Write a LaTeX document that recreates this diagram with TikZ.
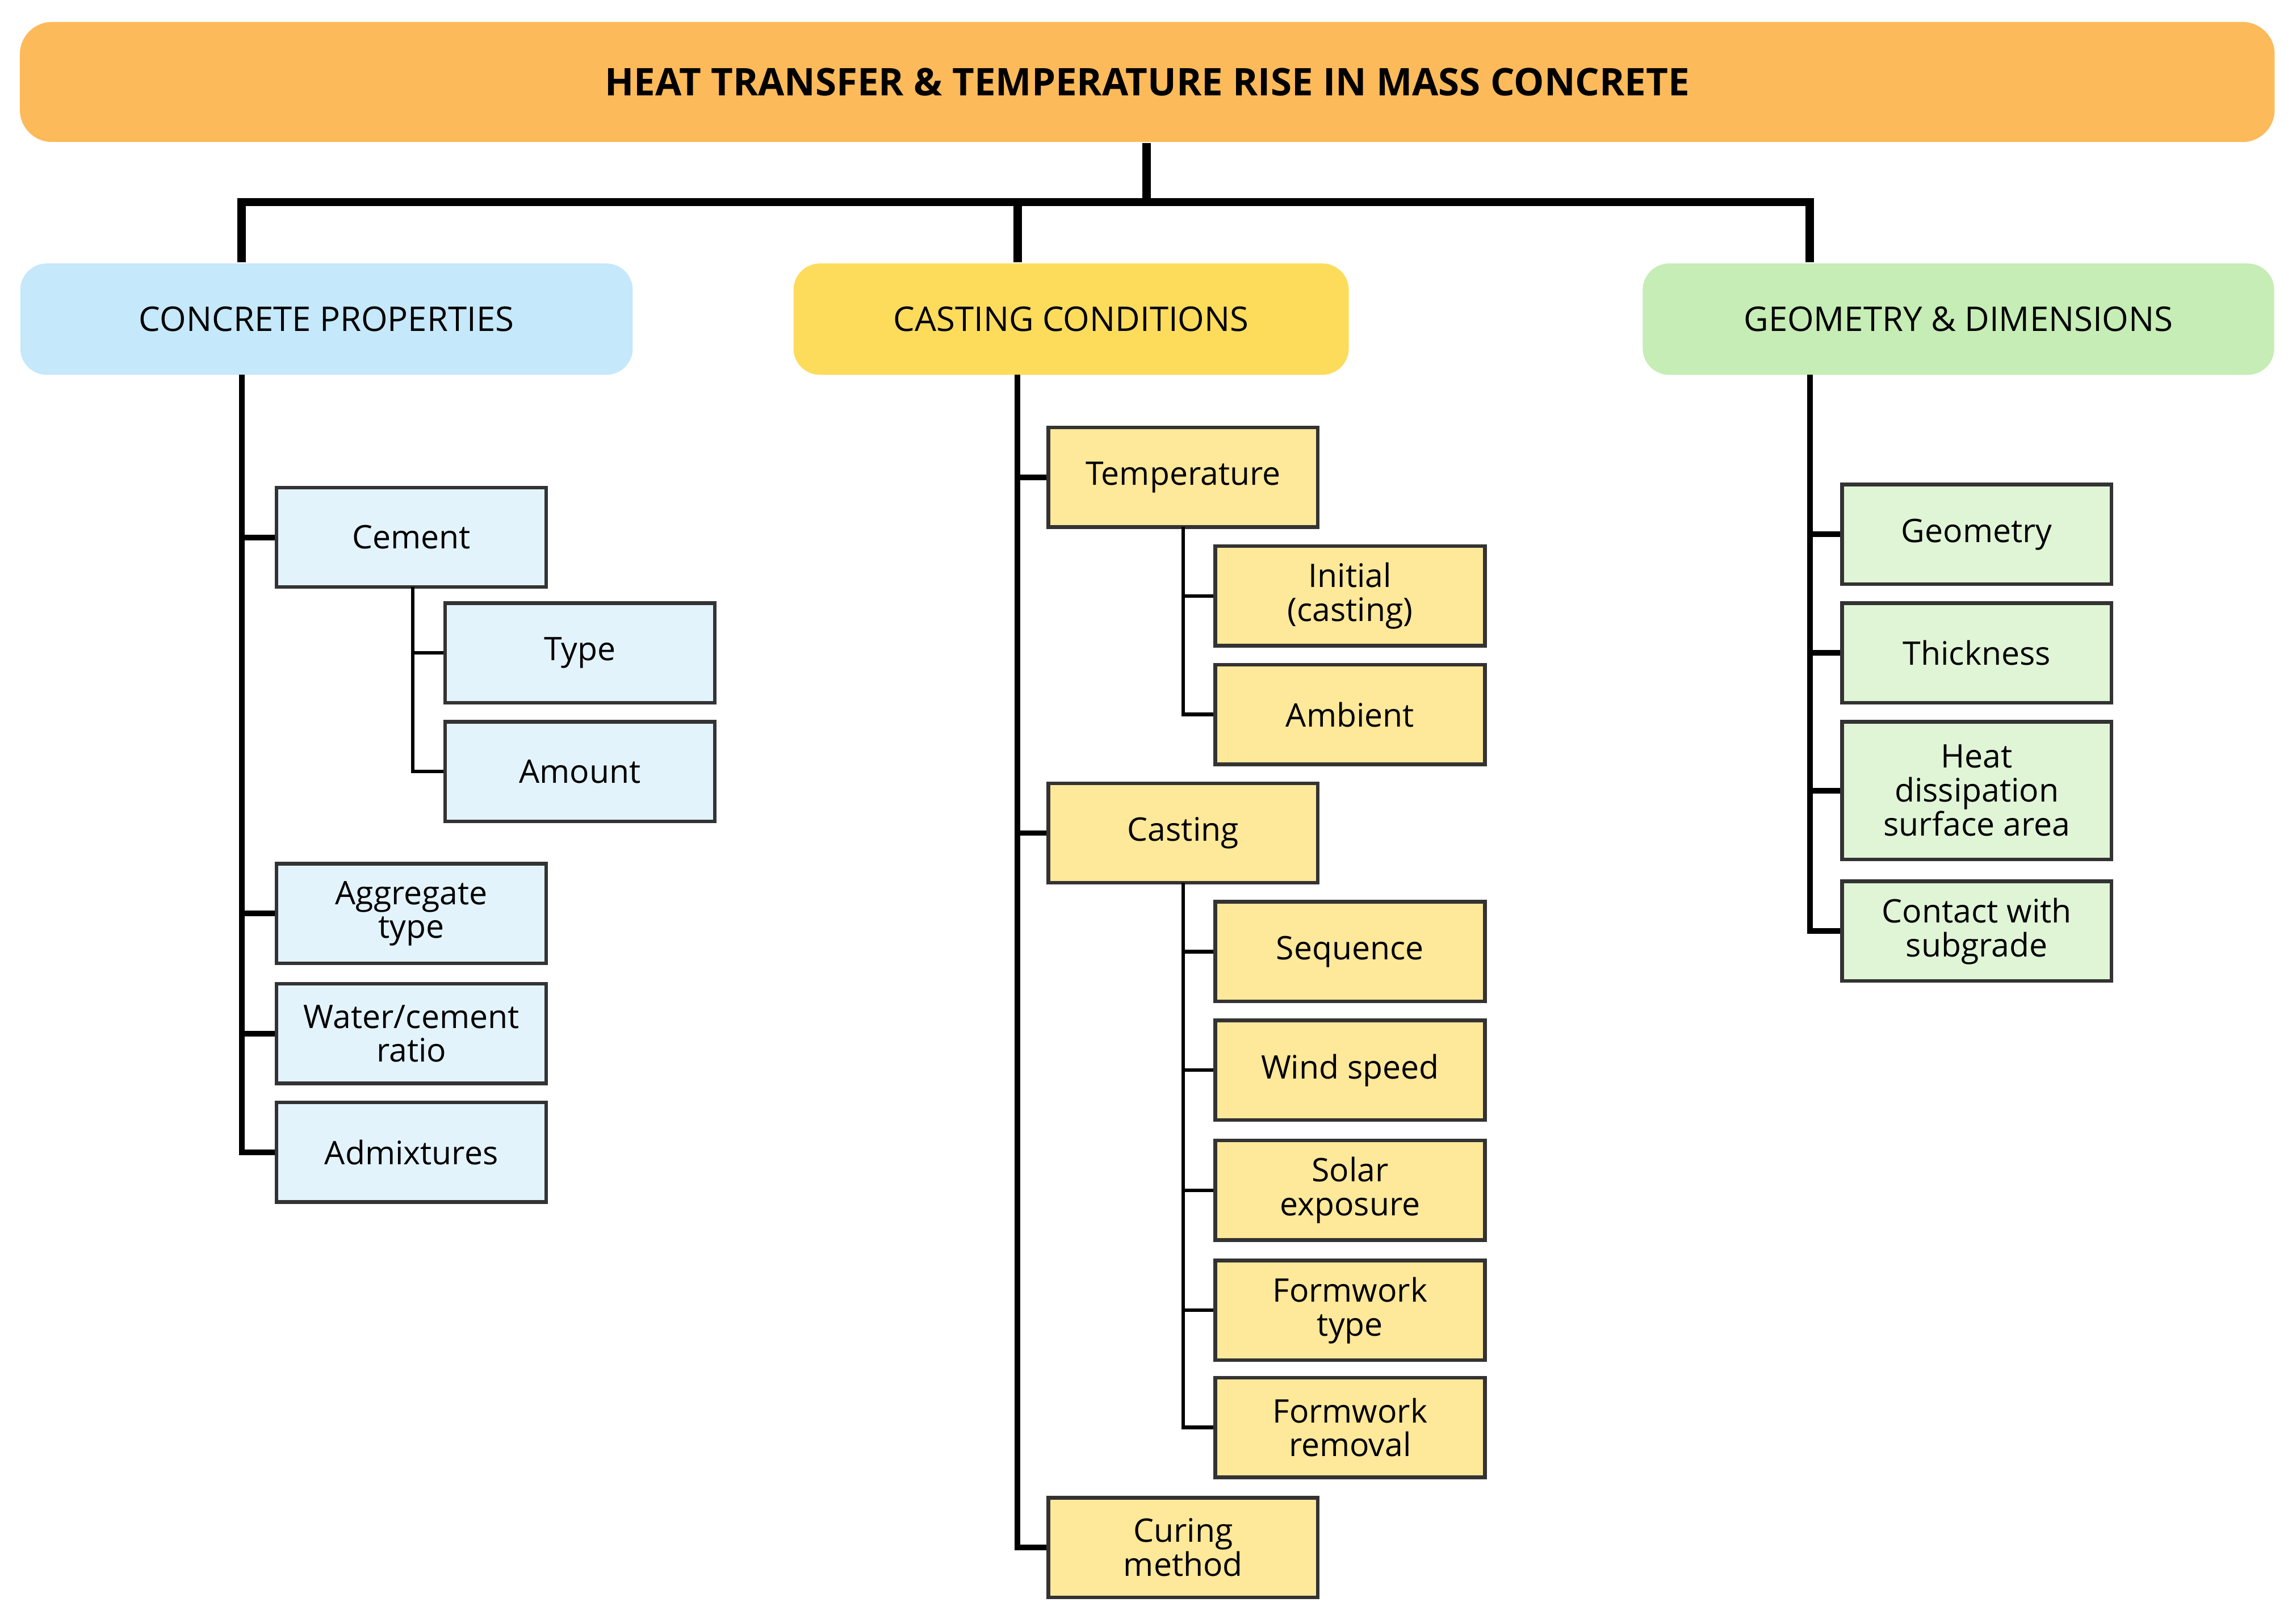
\documentclass[tikz,border=0pt]{standalone}
\usepackage{fontspec}
\setmainfont{Open Sans}
\usetikzlibrary{positioning}
\definecolor{orangeT}{HTML}{FDBA5A}
\definecolor{blueC}{HTML}{C5E8FA}
\definecolor{yellowC}{HTML}{FDDC5C}
\definecolor{greenC}{HTML}{C5EDB5}
\definecolor{blueS}{HTML}{E3F3FC}
\definecolor{yellowS}{HTML}{FEE89A}
\definecolor{greenS}{HTML}{E0F5D6}
\tikzset{
  cat/.style={rounded corners=0.18cm, minimum height=0.76cm, inner sep=0pt,
    font=\fontsize{6.6}{7.5}\selectfont},
  leaf/.style={draw=black!80, line width=0.7pt, minimum width=1.84cm, minimum height=0.68cm,
    inner sep=0pt, align=center, font=\fontsize{6.3}{6.6}\selectfont},
  trunk/.style={line width=1.6pt},
  branch/.style={line width=1.1pt},
  twig/.style={line width=0.7pt}
}
\begin{document}
\begin{tikzpicture}[x=0.01cm, y=-0.01cm]
\useasboundingbox (0,0) rectangle (1568,1103);
% title
\node[cat, fill=orangeT, minimum width=15.39cm, minimum height=0.82cm, rounded corners=0.22cm,
  font=\fontsize{7.4}{8}\selectfont\bfseries] (title) at (783.5,56) {HEAT TRANSFER \& TEMPERATURE RISE IN MASS CONCRETE};
% categories
\node[cat, fill=blueC, minimum width=4.18cm] (cp) at (223,218) {CONCRETE PROPERTIES};
\node[cat, fill=yellowC, minimum width=3.79cm] (cc) at (731.5,218) {CASTING CONDITIONS};
\node[cat, fill=greenC, minimum width=4.31cm] (gd) at (1337.5,218) {GEOMETRY \& DIMENSIONS};
\coordinate (hub) at (783,138);
\coordinate (cpx) at (165,256);
\coordinate (ccx) at (695,256);
\coordinate (gdx) at (1236,256);
\draw[trunk] (title.south -| hub) -- (hub);
\draw[trunk] (cpx |- cp.north) |- (hub) -| (gdx |- gd.north);
\draw[trunk] (ccx |- hub) -- (ccx |- cc.north);
% concrete properties
\node[leaf, fill=blueS] (cement) at (281,367) {Cement};
\node[leaf, fill=blueS] (type) at (396,446) {Type};
\node[leaf, fill=blueS] (amount) at (396,527) {Amount};
\node[leaf, fill=blueS] (aggr) at (281,624) {Aggregate\\type};
\node[leaf, fill=blueS] (wc) at (281,706) {Water/cement\\ratio};
\node[leaf, fill=blueS] (admix) at (281,787) {Admixtures};
\draw[branch] (cpx) |- (admix.west);
\foreach \n in {cement, aggr, wc} \draw[branch] (cpx |- \n.west) -- (\n.west);
\coordinate (cemx) at (282,401);
\draw[twig] (cemx) |- (amount.west);
\draw[twig] (cemx |- type.west) -- (type.west);
% casting conditions
\node[leaf, fill=yellowS] (temp) at (808,326) {Temperature};
\node[leaf, fill=yellowS] (init) at (922,407) {Initial\\(casting)};
\node[leaf, fill=yellowS] (amb) at (922,488) {Ambient};
\node[leaf, fill=yellowS] (cast) at (808,569) {Casting};
\node[leaf, fill=yellowS] (seq) at (922,650) {Sequence};
\node[leaf, fill=yellowS] (wind) at (922,731) {Wind speed};
\node[leaf, fill=yellowS] (solar) at (922,813) {Solar\\exposure};
\node[leaf, fill=yellowS] (ftype) at (922,895) {Formwork\\type};
\node[leaf, fill=yellowS] (frem) at (922,975) {Formwork\\removal};
\node[leaf, fill=yellowS] (curing) at (808,1057) {Curing\\method};
\draw[branch] (ccx) |- (curing.west);
\foreach \n in {temp, cast} \draw[branch] (ccx |- \n.west) -- (\n.west);
\coordinate (tmpx) at (808,360);
\draw[twig] (tmpx) |- (amb.west);
\draw[twig] (tmpx |- init.west) -- (init.west);
\coordinate (csx) at (808,603);
\draw[twig] (csx) |- (frem.west);
\foreach \n in {seq, wind, solar, ftype} \draw[twig] (csx |- \n.west) -- (\n.west);
% geometry & dimensions
\node[leaf, fill=greenS] (geom) at (1350,365) {Geometry};
\node[leaf, fill=greenS] (thick) at (1350,446) {Thickness};
\node[leaf, fill=greenS, minimum height=0.94cm] (heat) at (1350,540) {Heat\\dissipation\\surface area};
\node[leaf, fill=greenS] (contact) at (1350,636) {Contact with\\subgrade};
\draw[branch] (gdx) |- (contact.west);
\foreach \n in {geom, thick, heat} \draw[branch] (gdx |- \n.west) -- (\n.west);
\end{tikzpicture}
\end{document}
